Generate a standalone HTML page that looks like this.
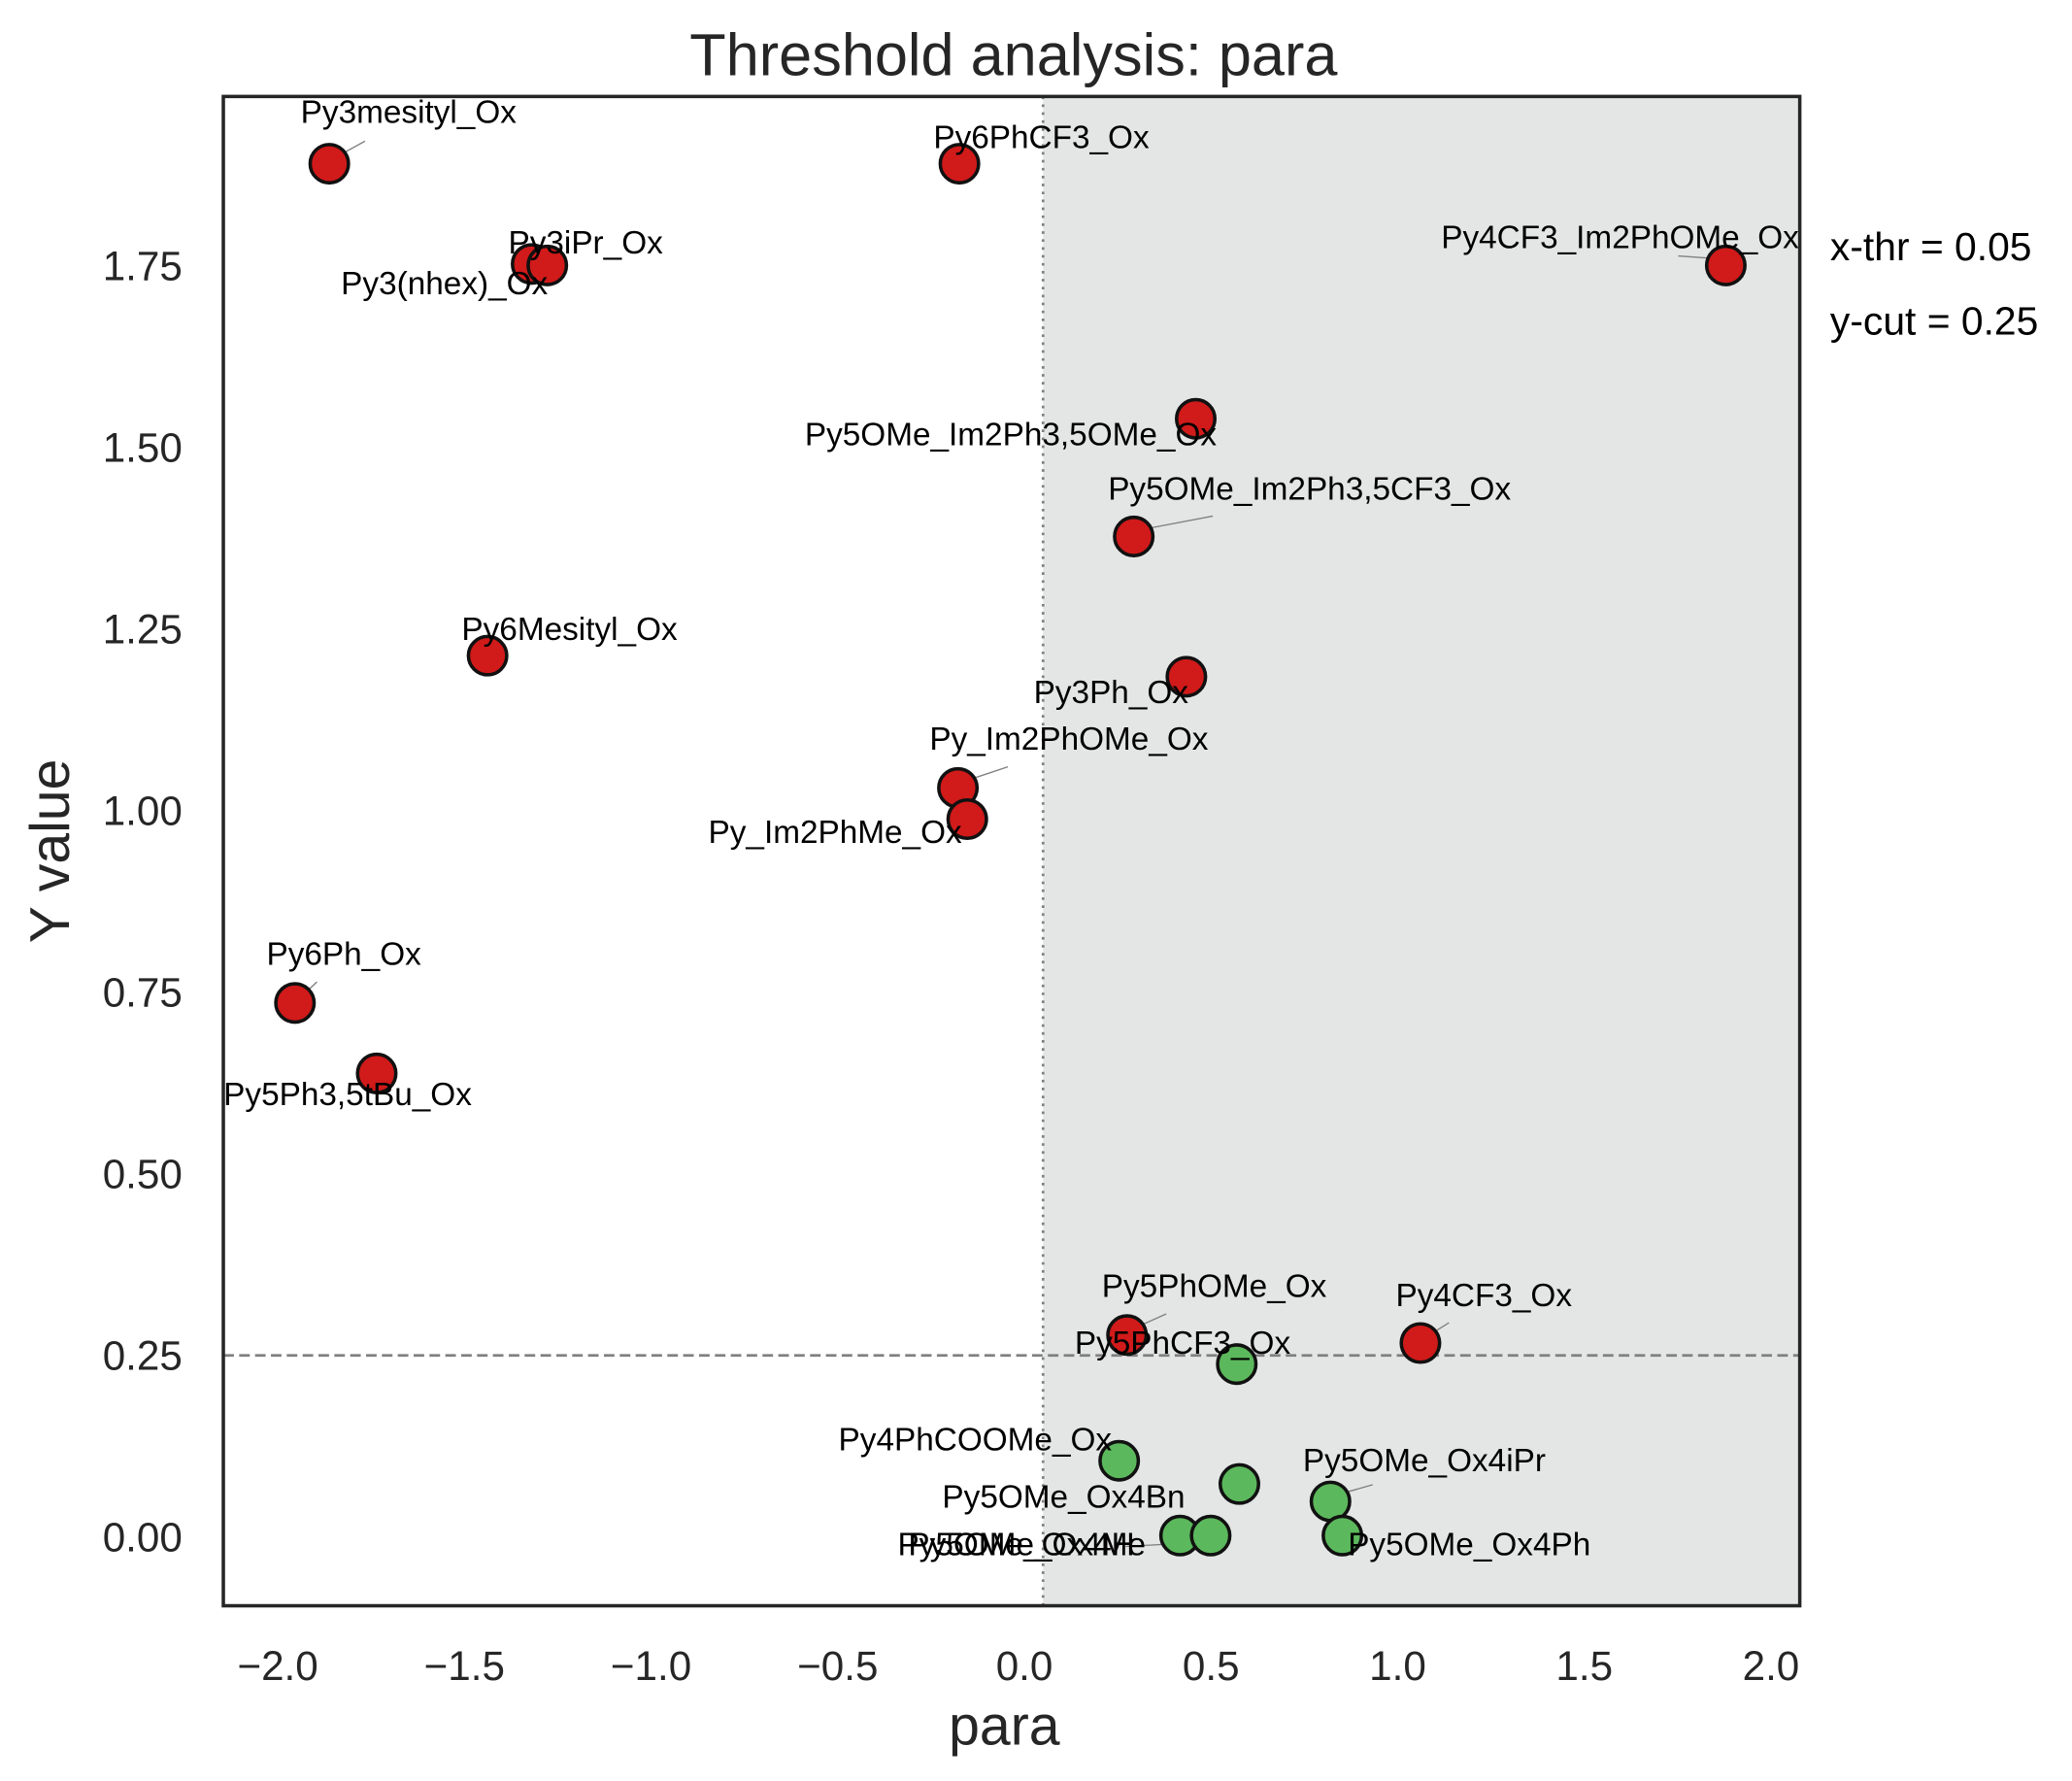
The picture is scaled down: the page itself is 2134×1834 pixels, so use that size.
<!DOCTYPE html>
<html><head><meta charset="utf-8"><style>
html,body{margin:0;padding:0;background:#fff;}
svg{display:block;font-family:"Liberation Sans",sans-serif;}
</style></head><body>
<svg id="chart" width="2134" height="1834" viewBox="0 0 1568 1347.6" xmlns="http://www.w3.org/2000/svg">
<rect x="0" y="0" width="1568" height="1348" fill="#fff"/>
<g id="plot"></g>
</svg>
<script>
const names = ["Py3mesityl_Ox","Py6PhCF3_Ox","Py3(nhex)_Ox","Py3iPr_Ox","Py4CF3_Im2PhOMe_Ox","Py5OMe_Im2Ph3,5OMe_Ox","Py5OMe_Im2Ph3,5CF3_Ox","Py6Mesityl_Ox","Py3Ph_Ox","Py_Im2PhOMe_Ox","Py_Im2PhMe_Ox","Py6Ph_Ox","Py5Ph3,5tBu_Ox","Py5PhOMe_Ox","Py4CF3_Ox","Py5PhCF3_Ox","Py4PhCOOMe_Ox","Py5OMe_Ox4Bn","Py5OMe_Ox4iPr","Py5OMe_Ox4H","Py5OMe_Ox4Me","Py5OMe_Ox4Ph"];
const xVals = [-1.862,-0.174,-1.32,-1.278,1.879,0.459,0.293,-1.438,0.434,-0.178,-0.153,-1.954,-1.735,0.275,1.061,0.569,0.254,0.576,0.820,0.417,0.499,0.852];
const yVals = [1.890,1.890,1.752,1.750,1.750,1.539,1.377,1.213,1.184,1.031,0.988,0.735,0.638,0.278,0.267,0.238,0.105,0.073,0.049,0.002,0.002,0.002];
const xTicks = [-2.0,-1.5,-1.0,-0.5,0.0,0.5,1.0,1.5,2.0];
const yTicks = [0.00,0.25,0.50,0.75,1.00,1.25,1.50,1.75];
const xThr = 0.05;
const yCut = 0.25;
// label offsets (layout, not data): dx, dy of text anchor relative to point; leader flag
const labelOff = [[60,-31,1],[62,-12,0],[-66,23,0],[29,-9,0],[-80,-13,1],[-140,20,0],[133,-28,1],[62,-12,0],[-57,20,0],[84,-29,1],[-100,18,0],[37,-29,1],[-22,24,0],[66,-29,1],[48,-28,1],[-41,-8,0],[-109,-8,0],[-133,18,0],[71,-23,1],[-120,15,0],[-143,15,1],[96,15,0]];

const L=169,R=1362,T=73,B=1215;
const sx = v => 775.2 + v*282.5;
const sy = v => 1163 - v*549.8;
const NS="http://www.w3.org/2000/svg";
const g=document.getElementById('plot');
function mk(tag, attrs, parent){const e=document.createElementNS(NS,tag);for(const k in attrs)e.setAttribute(k,attrs[k]);(parent||g).appendChild(e);return e;}

let e;
e=mk('rect',{x:sx(xThr),y:T,width:R-sx(xThr),height:B-T,fill:'#e4e6e5'});


e=mk('line',{x1:sx(xThr),x2:sx(xThr),y1:T,y2:B,stroke:'#808080','stroke-width':2,'stroke-dasharray':'2,4'});


e=mk('line',{x1:L,x2:R,y1:sy(yCut),y2:sy(yCut),stroke:'#808080','stroke-width':2,'stroke-dasharray':'8,4'});



for(let i=0;i<names.length;i++){
  const px=sx(xVals[i]),py=sy(yVals[i]);
  const o=labelOff[i];
  if(o[2]){
    const lx=px+o[0]*0.45, ly=py+o[1]*0.55;
    e=mk('line',{x1:px+5*Math.sign(o[0]),y1:py+5*Math.sign(o[1]),x2:lx,y2:ly,stroke:'#808080','stroke-width':1});
    
    
  }
}
for(let i=0;i<names.length;i++){
  const px=sx(xVals[i]),py=sy(yVals[i]);
  e=mk('circle',{cx:px,cy:py,r:14.5,fill:yVals[i]>=yCut?'#d11a1a':'#5cb85c',stroke:'#111','stroke-width':2.6});
  
  
}
for(let i=0;i<names.length;i++){
  const px=sx(xVals[i]),py=sy(yVals[i]);
  const o=labelOff[i];
  e=mk('text',{x:px+o[0],y:py+o[1],'text-anchor':'middle','font-size':24.5,fill:'#000'});
  e.textContent=names[i];
  
  
}
e=mk('rect',{x:L,y:T,width:R-L,height:B-T,fill:'none',stroke:'#262626','stroke-width':2.6});



for(const t of xTicks){
  e=mk('text',{x:sx(t),y:1271,'text-anchor':'middle','font-size':31,fill:'#262626'});
  e.textContent=(t<0?'\u2212':'')+Math.abs(t).toFixed(1);
  
  
}
for(const t of yTicks){
  e=mk('text',{x:138,y:sy(t)+11,'text-anchor':'end','font-size':31,fill:'#262626'});
  e.textContent=t.toFixed(2);
  
  
}
e=mk('text',{x:767,y:57,'text-anchor':'middle','font-size':45,fill:'#262626'});
e.textContent='Threshold analysis: para';


e=mk('text',{x:760,y:1320,'text-anchor':'middle','font-size':42,fill:'#262626'});
e.textContent='para';


e=mk('text',{x:52,y:644,'text-anchor':'middle','font-size':42,fill:'#262626',transform:'rotate(-90 52 644)'});
e.textContent='Y value';


e=mk('text',{x:1385,y:197,'font-size':30,fill:'#000'});
e.textContent='x-thr = '+xThr.toFixed(2);


e=mk('text',{x:1385,y:253,'font-size':30,fill:'#000'});
e.textContent='y-cut = '+yCut.toFixed(2);


</script>
</body></html>
